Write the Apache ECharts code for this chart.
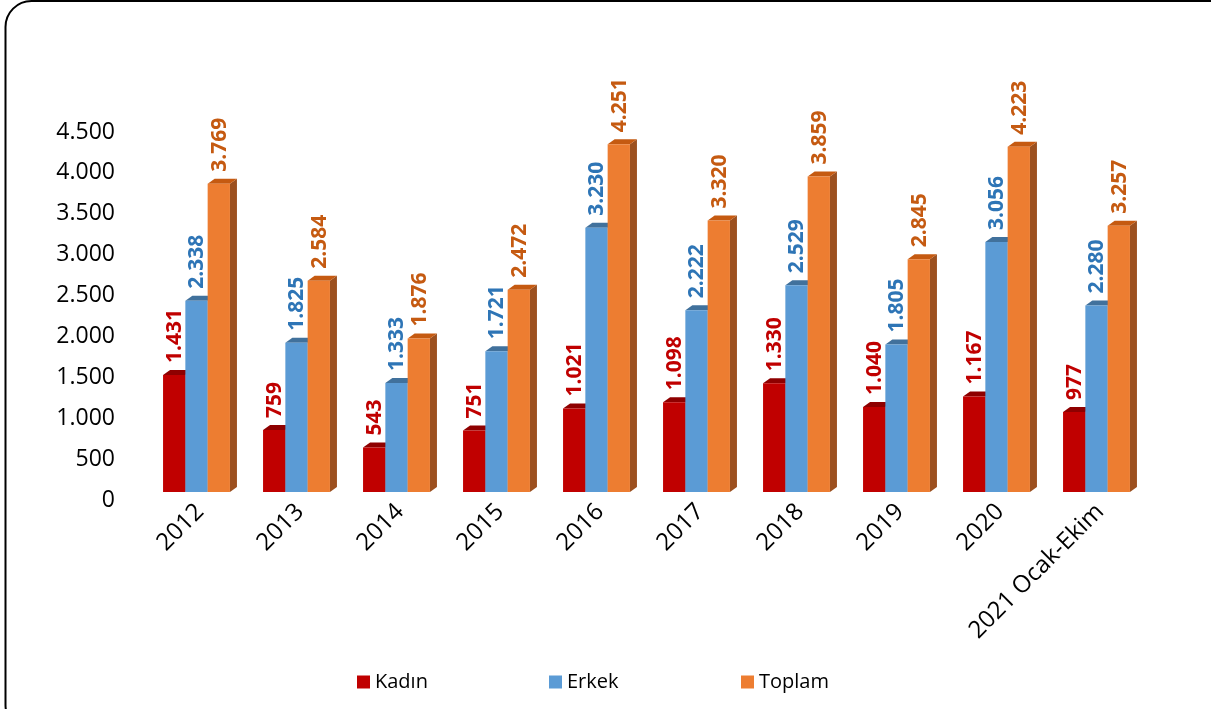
<!DOCTYPE html>
<html>
<head>
<meta charset="utf-8">
<script src="https://cdn.jsdelivr.net/npm/echarts@6/dist/echarts.min.js"></script>
<style>
  html, body { margin: 0; padding: 0; background: #fff; }
  #chart { width: 1211px; height: 709px; }
</style>
</head>
<body>
<div id="chart"></div>
<script>
// veriler
const categories = ['2012', '2013', '2014', '2015', '2016', '2017', '2018', '2019', '2020', '2021 Ocak-Ekim'];
const kadin = [1431, 759, 543, 751, 1021, 1098, 1330, 1040, 1167, 977];
const erkek = [2338, 1825, 1333, 1721, 3230, 2222, 2529, 1805, 3056, 2280];
const toplam = [3769, 2584, 1876, 2472, 4251, 3320, 3859, 2845, 4223, 3257];
const yTicks = [0, 500, 1000, 1500, 2000, 2500, 3000, 3500, 4000, 4500];

const FONT = '"Open Sans", "Noto Sans", sans-serif';

// seri stilleri: ön yüz, üst yüz, yan yüz, etiket rengi
const styles = [
  { name: 'Kadın', front: '#C00000', top: '#8E0000', side: '#8E0000', label: '#C00000' },
  { name: 'Erkek', front: '#5B9BD5', top: '#41719C', side: '#41719C', label: '#2E75B6' },
  { name: 'Toplam', front: '#ED7D31', top: '#C55A11', side: '#9C501F', label: '#C55A11' }
];

const fmt = v => v.toLocaleString('de-DE');

/**
 * 3B sütun çizimi
 * @param {number} k - seri sırası
 */
const makeRender = (k) => (params, api) => {
  const idx = api.value(0);
  const v = api.value(1);
  const base = api.coord([idx, 0]);
  const top = api.coord([idx, v]);
  const band = api.size([1, 0])[0];
  const w = band * 0.223;
  const dx = 7, dy = 5;
  const x0 = base[0] - 1.5 * w - dx / 2 + k * w;
  const ty = top[1], by = base[1];
  const s = styles[k];
  return {
    type: 'group',
    children: [
      {
        type: 'polygon',
        shape: { points: [[x0 + w, ty], [x0 + w + dx, ty - dy], [x0 + w + dx, by - dy], [x0 + w, by]] },
        style: { fill: s.side }
      },
      {
        type: 'polygon',
        shape: { points: [[x0, ty], [x0 + dx, ty - dy], [x0 + w + dx, ty - dy], [x0 + w, ty]] },
        style: { fill: s.top }
      },
      {
        type: 'rect',
        shape: { x: x0, y: ty, width: w, height: by - ty },
        style: { fill: s.front }
      },
      {
        type: 'text',
        x: x0 + w / 2 + 1,
        y: ty - dy - 7,
        rotation: Math.PI / 2,
        style: {
          text: fmt(v),
          fill: s.label,
          font: 'bold 21px ' + FONT,
          align: 'left',
          verticalAlign: 'middle'
        }
      }
    ]
  };
};

const seriesData = [kadin, erkek, toplam];

const chart = echarts.init(document.getElementById('chart'));

const option = {
  backgroundColor: '#fff',
  animation: false,
  grid: { left: 150, right: 61, top: 124, bottom: 217 },
  xAxis: {
    type: 'category',
    data: categories,
    axisLine: { show: false },
    axisTick: { show: false },
    axisLabel: {
      rotate: 45,
      interval: 0,
      margin: 16,
      fontSize: 24,
      fontFamily: FONT,
      color: '#000'
    }
  },
  yAxis: {
    type: 'value',
    min: 0,
    max: 4500,
    interval: 500,
    splitLine: { show: false },
    axisLine: { show: false },
    axisTick: { show: false },
    axisLabel: {
      margin: 35,
      color: '#000',
      formatter: v => yTicks.includes(v) ? '{a|' + fmt(v) + '}' : '',
      rich: {
        a: { fontSize: 23, fontFamily: FONT, color: '#000', padding: [16, 0, 0, 0] }
      }
    }
  },
  legend: styles.map((s, i) => ({
    data: [s.name],
    left: 357 + i * 192,
    top: 672,
    padding: 0,
    icon: 'rect',
    itemWidth: 13,
    itemHeight: 13,
    itemGap: 6,
    textStyle: { fontSize: 20, fontFamily: FONT, color: '#000' }
  })),
  graphic: [{
    type: 'rect',
    shape: { x: 5.5, y: 1, width: 1230, height: 730, r: 26 },
    style: { fill: 'none', stroke: '#000', lineWidth: 2 },
    silent: true
  }],
  series: styles.map((s, k) => ({
    type: 'custom',
    name: s.name,
    itemStyle: { color: s.front },
    renderItem: makeRender(k),
    encode: { x: 0, y: 1 },
    data: seriesData[k].map((v, i) => [i, v]),
    z: 2 + k
  }))
};

chart.setOption(option);
</script>
</body>
</html>
